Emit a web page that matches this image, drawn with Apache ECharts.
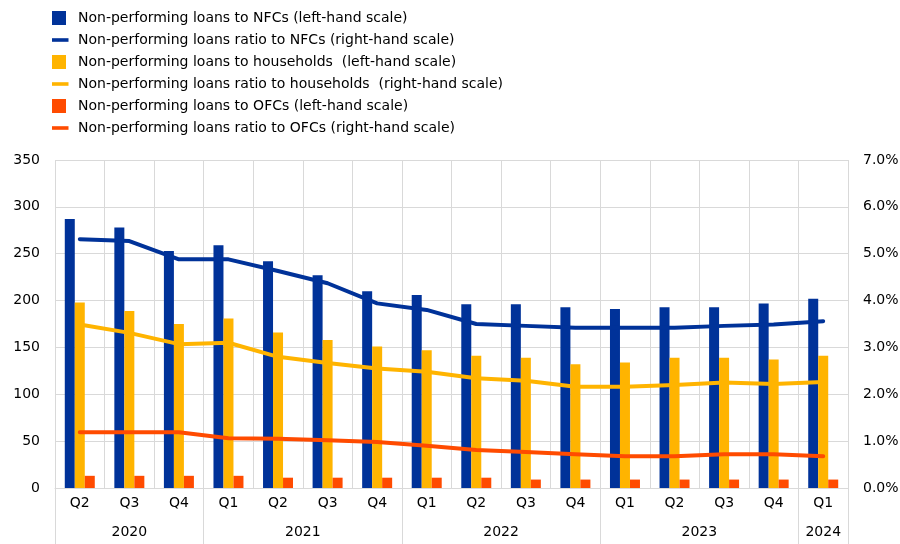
<!DOCTYPE html>
<html>
<head>
<meta charset="utf-8">
<script src="https://cdn.jsdelivr.net/npm/echarts@6/dist/echarts.min.js"></script>
<style>
  html, body { margin: 0; padding: 0; background: #fff; }
  #chart { width: 900px; height: 544px; }
</style>
</head>
<body>
<div id="chart"></div>
<script>
// quarters 2020 Q2 .. 2024 Q1
const quarters = ['Q2', 'Q3', 'Q4', 'Q1', 'Q2', 'Q3', 'Q4', 'Q1', 'Q2', 'Q3', 'Q4', 'Q1', 'Q2', 'Q3', 'Q4', 'Q1']
const years = ['2020', '2021', '2022', '2023', '2024']
// year label positions / separators in category units
const yearLabelPos = [1.5, 5, 9, 13, 15.5]
const yearBreaks = [0, 3, 7, 11, 15, 16]

// EUR billions (left-hand scale)
const nfcLoans = [287, 278, 253, 259, 242, 227, 210, 206, 196, 196, 193, 191, 193, 193, 197, 202]
const hhLoans = [198, 189, 175, 181, 166, 158, 151, 147, 141, 139, 132, 134, 139, 139, 137, 141]
const ofcLoans = [13, 13, 13, 13, 11, 11, 11, 11, 11, 9, 9, 9, 9, 9, 9, 9]

// ratios, % (right-hand scale)
const nfcRatio = [5.31, 5.27, 4.88, 4.88, 4.63, 4.37, 3.94, 3.80, 3.50, 3.46, 3.42, 3.42, 3.42, 3.46, 3.49, 3.56]
const hhRatio = [3.49, 3.31, 3.07, 3.10, 2.80, 2.67, 2.55, 2.48, 2.34, 2.29, 2.16, 2.16, 2.20, 2.25, 2.22, 2.26]
const ofcRatio = [1.19, 1.19, 1.19, 1.06, 1.05, 1.02, 0.98, 0.90, 0.81, 0.77, 0.72, 0.68, 0.68, 0.72, 0.72, 0.68]

const names = [
  'Non-performing loans to NFCs (left-hand scale)',
  'Non-performing loans ratio to NFCs (right-hand scale)',
  'Non-performing loans to households  (left-hand scale)',
  'Non-performing loans ratio to households  (right-hand scale)',
  'Non-performing loans to OFCs (left-hand scale)',
  'Non-performing loans ratio to OFCs (right-hand scale)'
]

const blue = '#003299'
const yellow = '#FFB400'
const orange = '#FF4B00'
const gridColor = '#d9d9d9'
const font = 'DejaVu Sans'

// legend icons: 28x14 frame (the two moveTo's fix the bounds)
const squareIcon = 'path://M0,0M28,14M7,0L21,0L21,14L7,14Z'
const dashIcon = 'path://M0,0M28,14M7,5.2L23.5,5.2L23.5,8.8L7,8.8Z'

const chart = echarts.init(document.getElementById('chart'))

const barSeries = (name, data, color) => ({
  name,
  type: 'bar',
  data,
  barWidth: 10,
  barGap: '0%',
  itemStyle: { color }
})

const lineSeries = (name, data, color) => ({
  name,
  type: 'line',
  yAxisIndex: 1,
  data,
  symbol: 'none',
  z: 5,
  lineStyle: { color, width: 4, cap: 'round', join: 'round' },
  itemStyle: { color }
})

const option = {
  animation: false,
  textStyle: { fontFamily: font },
  legend: {
    orient: 'vertical',
    left: 40,
    top: 6,
    itemWidth: 28,
    itemHeight: 14,
    itemGap: 8,
    textStyle: { fontSize: 14, color: '#000', fontFamily: font },
    data: [
      { name: names[0], icon: squareIcon },
      { name: names[1], icon: dashIcon },
      { name: names[2], icon: squareIcon },
      { name: names[3], icon: dashIcon },
      { name: names[4], icon: squareIcon },
      { name: names[5], icon: dashIcon }
    ]
  },
  grid: {
    left: 55,
    right: 52,
    top: 160,
    bottom: 56,
    outerBoundsMode: 'none'
  },
  xAxis: [
    {
      type: 'category',
      data: quarters,
      axisLine: { lineStyle: { color: gridColor } },
      axisTick: { show: false },
      axisLabel: { color: '#000', fontSize: 14, fontFamily: font, margin: 8, interval: 0 },
      splitLine: { show: true, lineStyle: { color: gridColor } }
    },
    {
      type: 'value',
      position: 'bottom',
      min: 0,
      max: 16,
      axisLine: { show: false },
      splitLine: { show: false },
      axisTick: {
        show: true,
        customValues: yearBreaks,
        length: 56,
        lineStyle: { color: gridColor }
      },
      axisLabel: {
        customValues: yearLabelPos,
        color: '#000',
        fontSize: 14,
        fontFamily: font,
        margin: 37,
        formatter: v => {
          const i = yearLabelPos.indexOf(v)
          return i >= 0 ? years[i] : ''
        }
      }
    }
  ],
  yAxis: [
    {
      type: 'value',
      min: 0,
      max: 350,
      interval: 50,
      axisLine: { show: false },
      axisTick: { show: false },
      axisLabel: { color: '#000', fontSize: 14, fontFamily: font, margin: 15 },
      splitLine: { lineStyle: { color: gridColor } }
    },
    {
      type: 'value',
      min: 0,
      max: 7,
      interval: 1,
      position: 'right',
      axisLine: { show: false },
      axisTick: { show: false },
      axisLabel: {
        color: '#000',
        fontSize: 14,
        fontFamily: font,
        margin: 15,
        formatter: v => v.toFixed(1) + '%'
      },
      splitLine: { show: false }
    }
  ],
  series: [
    barSeries(names[0], nfcLoans, blue),
    barSeries(names[2], hhLoans, yellow),
    barSeries(names[4], ofcLoans, orange),
    lineSeries(names[1], nfcRatio, blue),
    lineSeries(names[3], hhRatio, yellow),
    lineSeries(names[5], ofcRatio, orange)
  ]
}

chart.setOption(option)
</script>
</body>
</html>
